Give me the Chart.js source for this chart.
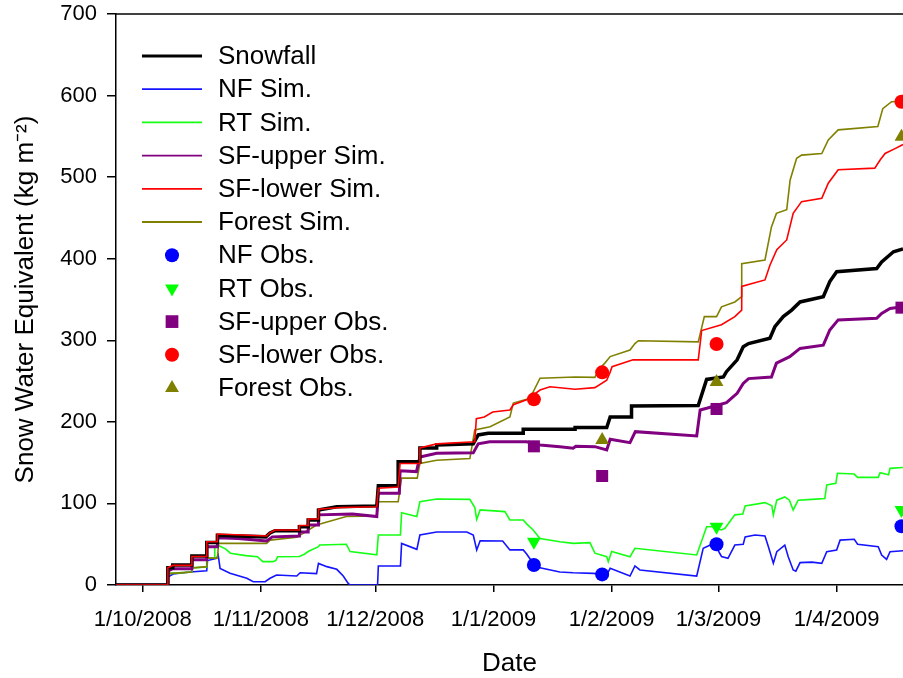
<!DOCTYPE html>
<html>
<head>
<meta charset="utf-8">
<script src="https://cdn.jsdelivr.net/npm/chart.js"></script>
<style>
html,body{margin:0;padding:0;background:#fff;}
#wrap{width:903px;height:678px;}
</style>
</head>
<body>
<div id="wrap"><canvas id="c" width="903" height="678"></canvas></div>
<script>
// x values are days since 1 October 2008
const monthTicks = [0, 31, 61, 92, 123, 151, 182];
const monthLabels = ['1/10/2008', '1/11/2008', '1/12/2008', '1/1/2009', '1/2/2009', '1/3/2009', '1/4/2009'];
const yTickValues = [0, 100, 200, 300, 400, 500, 600, 700];

const snowfall = [[-7,0],[6.4,0],[6.6,21],[7.9,21],[7.9,24.5],[12.9,24.5],[12.9,35.5],[16.8,35.5],[16.8,52],[19.6,52],[19.6,61],[32.3,59],[33.4,63.7],[34.7,66.6],[41.1,66.6],[41.1,71.5],[43.4,71.5],[43.4,79.7],[46.1,79.7],[46.1,92],[50.9,96],[61.4,97],[61.8,121.8],[67.0,121.8],[67.0,151],[72.7,151],[72.7,168],[77.1,168],[77.1,171.6],[86.7,173],[88.0,184],[90.6,186],[99.8,186],[99.8,191],[113.4,191],[113.4,193],[121.7,193],[122.6,206],[128.2,206],[128.2,219.5],[145.7,220],[147.9,252],[152.3,255],[153.1,261.5],[155.9,276],[157.5,292],[158.9,296],[164.5,302.5],[165.8,316.6],[168.0,329],[170.2,337],[172.4,347],[178.5,353.5],[180.2,372],[182.0,384],[192.5,388],[193.8,396],[196.9,408.6],[199.4,412]];

const nfSim = [[-7,0],[6.4,0],[6.7,10],[8.0,13.5],[12.4,16],[16.8,17.5],[17.0,30],[19.4,32.7],[19.8,36.8],[20.3,20.4],[22.9,14.3],[27.3,8.2],[29.0,4],[32.1,4],[33.4,8.2],[35.1,12.3],[40.4,11],[41.3,15],[45.6,14],[46.1,26.5],[48.3,22.5],[50.9,19.2],[52.6,11],[53.9,2],[54.4,0],[61.6,0],[61.8,23.3],[67.6,23.3],[67.9,51],[71.9,43.7],[72.7,61.3],[77.1,65],[85.0,65],[86.7,61.3],[87.6,43],[88.5,54.3],[94.4,54],[96.3,43],[99.8,43],[100.7,38],[102.4,26.6],[104.2,21],[109.4,16],[112.9,15],[118.2,14.3],[121.7,12.3],[122.6,20.4],[127.8,11],[129.1,23.3],[130.4,18.4],[145.3,11],[147.0,45],[149.3,50],[150.6,45],[151.8,35],[153.5,32.7],[155.3,49],[157.5,50],[158.0,59],[160.6,61.3],[163.2,60],[164.1,47],[165.4,26.6],[166.3,40.8],[168.4,49],[169.3,34.7],[170.6,18.4],[171.3,17],[172.4,27.4],[175.5,28],[178.1,26.6],[179.4,40.8],[182.0,43],[182.9,55],[186.6,56],[187.5,50],[192.9,47],[193.8,36.8],[195.1,31.4],[196.0,40.8],[199.4,42]];

const rtSim = [[-7,0],[6.4,0],[6.6,14],[12.9,16],[12.9,21],[16.8,22],[16.8,33],[18.9,33],[18.9,47],[19.6,49],[21.8,44],[23.0,39],[27.0,36],[30.1,34.7],[31.5,28.6],[34.1,28.6],[34.9,30],[35.4,34.7],[41.1,35],[42.5,38],[43.4,41],[46.1,47],[46.4,49],[53.4,50],[54.4,41],[61.4,37],[61.8,61.3],[67.6,61.3],[67.9,88.6],[71.9,84],[72.7,102],[77.1,105.4],[85.8,105],[87.1,95],[87.6,80.5],[88.5,92],[95.0,90],[96.3,79.7],[99.8,79.7],[100.7,75],[102.4,67.5],[104.2,57],[109.4,53],[112.9,51],[117.3,52],[118.6,39],[121.7,34.7],[122.1,28.6],[123.0,41],[127.8,34.7],[129.1,45],[145.3,36.8],[147.9,71.5],[149.6,71.5],[151.8,67.5],[152.7,69.5],[155.3,86],[157.4,87],[158.0,97],[163.2,101],[165.0,97],[165.4,86],[166.3,104],[168.4,108],[169.6,104],[170.6,92],[171.9,104],[175.5,105],[178.9,106],[179.4,122.6],[181.8,124.7],[182.2,137],[186.6,136],[187.5,132],[192.9,132],[193.4,137.7],[195.6,135],[196.0,143],[199.4,144]];

const sfUpperSim = [[-7,0],[6.4,0],[6.6,17],[7.9,20],[12.9,20],[12.9,31],[16.8,31],[16.8,47],[19.6,47],[19.6,58],[25,57],[32.5,54],[34.0,59],[41.1,60],[41.1,65],[43.4,65],[43.4,73.6],[46.1,73.6],[46.1,86],[55,87],[61.4,84],[61.8,112.4],[67.3,112.4],[67.5,140],[71.8,139],[72.7,157],[77.1,161.5],[86.7,162],[88.0,173],[91,175.7],[100.7,175.7],[104.2,171.6],[109.4,169.6],[112.9,167.6],[113.6,170],[118.6,169.6],[121.7,165.5],[122.6,178.6],[127.8,174.5],[129.2,188],[145.3,182.7],[146.2,214.6],[147.9,216.6],[153.1,223.5],[155.9,235],[157.5,247],[158.9,253],[164.9,255],[166.2,272],[169.7,280],[172.4,290],[178.5,294],[180.2,312.6],[182.4,325],[192.5,327],[193.8,333],[196.0,339],[199.4,341]];

const sfLowerSim = [[-7,0],[6.4,0],[6.6,21],[7.9,24],[12.9,24],[12.9,35],[16.8,35],[16.8,53],[19.6,53],[19.6,62.5],[32.5,60],[33.4,64],[34.7,67.5],[41.1,67.5],[41.1,73],[43.4,73],[43.4,81],[46.1,81],[46.1,93],[52,95],[61.4,96],[61.8,118.6],[67.0,120],[67.5,149],[72.7,149],[72.7,168],[77.1,173],[87.1,175.7],[87.5,204],[89.6,206],[91.8,212],[96.3,214.6],[97.2,221],[100.7,227],[104.2,239],[106.8,243],[113.4,240],[118.6,242],[121.7,251],[122.6,261],[123.1,267.6],[128.6,276],[145.7,276],[146.6,312],[151.8,319],[155.3,329],[157.1,337],[157.1,366],[163.2,374],[164.5,392],[166.3,411],[168.9,423],[170.6,455.7],[172.8,470],[178.1,474],[179.8,492.5],[182.4,509],[192.0,511],[193.4,521],[194.7,529],[197.3,535],[199.4,540]];

const forestSim = [[-7,0],[6.4,0],[6.6,14],[12.9,16],[12.9,21],[16.8,22.5],[16.8,33],[19.6,33],[19.9,51],[32.5,51],[33.4,55],[40.4,58.5],[45.6,73.6],[53.4,84],[61.4,84.6],[61.8,102],[67.0,102],[67.9,131],[72.0,131],[72.7,149],[77.1,153],[85.8,155],[87.1,190],[91.1,194],[96.3,206],[97.2,223],[101.6,229],[104.2,253.5],[113.4,255],[118.6,254.6],[119.5,263.6],[121.2,272],[122.6,280],[127.8,288],[129.1,296],[130.0,299.5],[145.7,298],[147.3,329],[150.5,329],[151.8,341],[155.3,347],[157.1,353.5],[157.1,394],[163.2,398.5],[164.9,439],[166.2,455.6],[168.9,460],[169.8,496.5],[171.5,523],[172.8,527],[178.1,529],[179.8,545.6],[182.4,558],[192.8,562],[194.1,584],[196.4,592.5],[199.4,593]];

const obsDays = [102.6, 120.5, 150.5, 199.0];
const nfObs = [24.5, 13, 50, 72];
const rtObs = [53, null, 71.5, 92];
const sfUpperObs = [170, 133.6, 215.8, 340];
const sfLowerObs = [227.6, 260.7, 295.5, 592.5];
const forestObs = [null, 177.8, 249, 549.6];

const FONT = '"Liberation Sans", Arial, Helvetica, sans-serif';

function obsPoints(vals) {
  const out = [];
  vals.forEach((v, i) => { if (v !== null) out.push([obsDays[i], v]); });
  return out;
}
function simSet(label, data, color, width, order) {
  return { label, data, borderColor: color, backgroundColor: color, borderWidth: width,
    pointRadius: 0, pointHoverRadius: 0, tension: 0, fill: false, order,
    legendLineWidth: width >= 3.5 ? 3 : 1.8 };
}
function obsSet(label, vals, color, style, radius, rotation) {
  return { label, data: obsPoints(vals), showLine: false, borderColor: color, backgroundColor: color,
    pointBackgroundColor: color, pointBorderColor: color, pointBorderWidth: 0,
    pointStyle: style, pointRadius: radius, pointHoverRadius: radius, pointRotation: rotation || 0,
    order: 0, legendRadius: style === 'rect' ? 9 : (style === 'triangle' ? 8 : 7) };
}

const datasets = [
  simSet('Snowfall', snowfall, '#000000', 3.5, 3),
  simSet('NF Sim.', nfSim, '#1414ff', 1.6, 7),
  simSet('RT Sim.', rtSim, '#14ff14', 1.6, 6),
  simSet('SF-upper Sim.', sfUpperSim, '#800080', 3, 4),
  simSet('SF-lower Sim.', sfLowerSim, '#ff0000', 1.6, 2),
  simSet('Forest Sim.', forestSim, '#808000', 1.6, 5),
  obsSet('NF Obs.', nfObs, '#0000ff', 'circle', 7),
  obsSet('RT Obs.', rtObs, '#00ff00', 'triangle', 8, 180),
  obsSet('SF-upper Obs.', sfUpperObs, '#800080', 'rect', 8.5),
  obsSet('SF-lower Obs.', sfLowerObs, '#ff0000', 'circle', 7),
  obsSet('Forest Obs.', forestObs, '#808000', 'triangle', 8)
];

function drawMarker(ctx, style, rotation, r, x, y) {
  ctx.beginPath();
  if (style === 'circle') {
    ctx.arc(x, y, r, 0, Math.PI * 2);
  } else if (style === 'rect') {
    const s = r * Math.SQRT1_2;
    ctx.rect(x - s, y - s, 2 * s, 2 * s);
  } else {
    let a = rotation * Math.PI / 180;
    ctx.moveTo(x + Math.sin(a) * r, y - Math.cos(a) * r);
    for (let k = 0; k < 2; k++) {
      a += Math.PI * 2 / 3;
      ctx.lineTo(x + Math.sin(a) * r, y - Math.cos(a) * r);
    }
    ctx.closePath();
  }
  ctx.fill();
}

const frameTop = {
  id: 'frameTop',
  afterDraw(chart) {
    const { ctx, chartArea: a } = chart;
    ctx.save();
    ctx.strokeStyle = '#000';
    ctx.lineWidth = 1.5;
    ctx.beginPath();
    ctx.moveTo(a.left, a.top);
    ctx.lineTo(a.right, a.top);
    ctx.stroke();
    ctx.restore();
  }
};

const insideLegend = {
  id: 'insideLegend',
  afterDraw(chart) {
    const { ctx, chartArea: a } = chart;
    const x0 = a.left + 26, x1 = a.left + 86, tx = a.left + 102;
    let y = a.top + 42;
    ctx.save();
    ctx.font = '26px ' + FONT;
    ctx.textBaseline = 'middle';
    ctx.textAlign = 'left';
    chart.data.datasets.forEach(ds => {
      if (ds.showLine === false) {
        ctx.fillStyle = ds.pointBackgroundColor;
        drawMarker(ctx, ds.pointStyle, ds.pointRotation, ds.legendRadius, (x0 + x1) / 2, y);
      } else {
        ctx.strokeStyle = ds.borderColor;
        ctx.lineWidth = ds.legendLineWidth;
        ctx.beginPath();
        ctx.moveTo(x0, y);
        ctx.lineTo(x1, y);
        ctx.stroke();
      }
      ctx.fillStyle = '#000';
      ctx.fillText(ds.label, tx, y + 1);
      y += 33.2;
    });
    ctx.restore();
  }
};

new Chart(document.getElementById('c'), {
  type: 'line',
  data: { datasets },
  options: {
    responsive: false,
    animation: false,
    devicePixelRatio: 1,
    layout: { autoPadding: false, padding: { top: 14, right: 0, left: 0, bottom: 0 } },
    plugins: { legend: { display: false }, tooltip: { enabled: false } },
    scales: {
      x: {
        type: 'linear', min: -7, max: 199.4,
        afterBuildTicks: s => { s.ticks = monthTicks.map(v => ({ value: v })); },
        afterFit: s => { s.height = 93; s.paddingLeft = 0; s.paddingRight = 0; },
        ticks: {
          autoSkip: false, maxRotation: 0, minRotation: 0, padding: 15, color: '#000',
          font: { size: 22, family: FONT },
          callback: v => { const i = monthTicks.indexOf(v); return i >= 0 ? monthLabels[i] : ''; }
        },
        grid: { drawOnChartArea: false, drawTicks: true, tickLength: 7, color: '#000', lineWidth: 1.5 },
        border: { display: true, color: '#000', width: 1.5 },
        title: { display: true, text: 'Date', color: '#000', font: { size: 26, family: FONT, lineHeight: 1.1 }, padding: { top: 0, bottom: 0 } }
      },
      y: {
        type: 'linear', min: 0, max: 700,
        afterBuildTicks: s => { s.ticks = yTickValues.map(v => ({ value: v })); },
        afterFit: s => { s.width = 116; s.paddingTop = 0; s.paddingBottom = 0; },
        ticks: { padding: 10, color: '#000', font: { size: 22, family: FONT } },
        grid: { drawOnChartArea: false, drawTicks: true, tickLength: 9, color: '#000', lineWidth: 1.5 },
        border: { display: true, color: '#000', width: 1.5 },
        title: { display: true, text: 'Snow Water Equivalent (kg m\u207B\u00B2)', color: '#000', font: { size: 26, family: FONT, lineHeight: 1.2 }, padding: { top: 10, bottom: 0 } }
      }
    }
  },
  plugins: [frameTop, insideLegend]
});
</script>
</body>
</html>
